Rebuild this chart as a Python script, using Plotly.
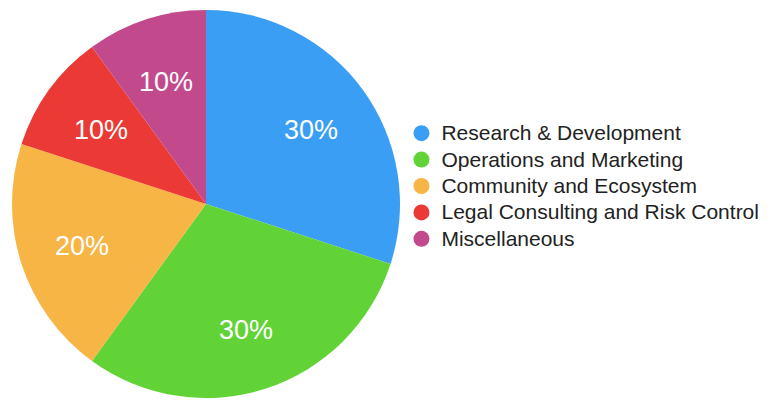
import math
import plotly.graph_objects as go

categories = ["Research & Development", "Operations and Marketing", "Community and Ecosystem",
              "Legal Consulting and Risk Control", "Miscellaneous"]
values = [30, 30, 20, 10, 10]
colors = ["#3A9EF5", "#62D337", "#F6B544", "#EB3935", "#C24A8C"]

W, H = 773, 400
# pie geometry (paper px, compensating 8px page offset)
CX, CY, R = 198, 196, 194  # CY measured from top

fig = go.Figure()
fig.add_trace(go.Pie(
    labels=categories, values=values, sort=False, direction="clockwise", rotation=0,
    marker=dict(colors=colors, line=dict(width=0)),
    textinfo="none", showlegend=False, hoverinfo="label+percent",
    domain=dict(x=[(CX - R) / W, (CX + R) / W], y=[(H - CY - R) / H, (H - CY + R) / H]),
))
for c, col in zip(categories, colors):
    fig.add_trace(go.Scatter(x=[None], y=[None], mode="markers",
                             name='<span style="font-size:21px">%s</span>' % c,
                             marker=dict(color=col, size=17, symbol="circle")))

# percent labels placed at slice mid-angles
total = sum(values)
cum = 0
annotations = []
for v in values:
    mid = (cum + v / 2) / total
    cum += v
    th = 2 * math.pi * mid
    r = 0.67 * R
    annotations.append(dict(
        x=(CX + r * math.sin(th)) / W, y=(H - CY + r * math.cos(th)) / H,
        xref="paper", yref="paper", xanchor="center", yanchor="middle",
        showarrow=False, yshift=-2,
        text="%d%%" % round(100 * v / total),
        font=dict(family="Liberation Sans, Arial, sans-serif", size=27, color="white"),
    ))

fig.update_layout(
    width=W, height=H, margin=dict(l=0, r=0, t=0, b=0),
    paper_bgcolor="white", plot_bgcolor="white",
    xaxis=dict(visible=False), yaxis=dict(visible=False),
    annotations=annotations,
    legend=dict(x=0.509, y=0.7325, xanchor="left", yanchor="top",
                font=dict(family="Liberation Sans, Arial, sans-serif", size=18, color="#222222"),
                itemsizing="trace", bgcolor="rgba(0,0,0,0)", tracegroupgap=0),
)
fig.write_html("out.html")
